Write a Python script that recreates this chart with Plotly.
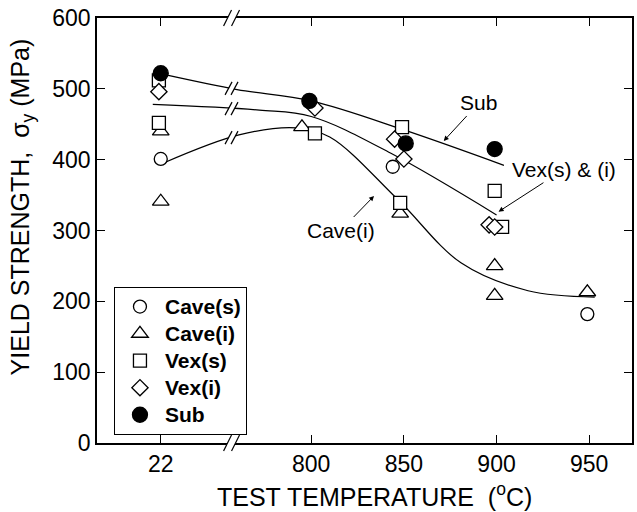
import numpy as np
import plotly.graph_objects as go

# ---------------- data ----------------
# Test temperature in °C; the 22 °C group is drawn left of an axis break.
cave_s_T = [22, 844, 949]
cave_s_Y = [401, 390, 182]

cave_i_T = [22, 22, 795, 848, 899, 899, 949]
cave_i_Y = [440, 341, 446, 324, 250, 208, 213]

vex_s_T = [21, 21, 802, 849, 848, 899, 903]
vex_s_Y = [512, 452, 437, 446, 339, 356, 305]

vex_i_T = [21, 802, 845, 850, 896, 899]
vex_i_Y = [496, 473, 429, 401, 308, 305]

sub_T = [22, 799, 851, 899]
sub_Y = [522, 483, 423, 415]

# hand-drawn guide curves (axis units; first points lie in the 22 °C block)
sub_curve_T = [721, 760, 800, 850, 904]
sub_curve_Y = [520, 499, 483, 442, 392]
vex_curve_T = [714.5, 772, 800, 843, 900]
vex_curve_Y = [478, 470, 461, 409, 322]
cave_curve_T = [720, 761, 792, 810, 847, 881, 917, 953]
cave_curve_Y = [395, 435, 445, 432, 343, 254, 215, 206]

tick_T = [22, 800, 850, 900, 950]
tick_labels = ["22", "800", "850", "900", "950"]
y_ticks = [0, 100, 200, 300, 400, 500, 600]

# ---------------- broken-axis mapping ----------------
X22 = 718.8          # axis position where 22 °C is drawn
BREAK_X = 757.0      # position of the break marks


def pos(t):
    t = np.asarray(t, dtype=float)
    return np.where(t < 500, X22 + (t - 22), t)


XR = [684.4, 973.1]
YR = [0, 600]
W, H = 637, 512
ML, MR, MT, MB = 97, 3, 18, 69
PW, PH = W - ML - MR, H - MT - MB
PX_X = PW / (XR[1] - XR[0])   # px per x unit
PX_Y = PH / (YR[1] - YR[0])   # px per y unit

fig = go.Figure()

LINE = dict(color="black", width=1.2)
for cx, cy in [(sub_curve_T, sub_curve_Y), (vex_curve_T, vex_curve_Y),
               (cave_curve_T, cave_curve_Y)]:
    fig.add_trace(go.Scatter(x=cx, y=cy, mode="lines", line=dict(shape="spline", **LINE),
                             showlegend=False, hoverinfo="skip"))

ML_OPEN = dict(color="black", width=1.3)
series = [
    ("Cave(s)", cave_s_T, cave_s_Y, "circle", 13, "white"),
    ("Cave(i)", cave_i_T, cave_i_Y, "triangle-up", 14.5, "white"),
    ("Vex(s)", vex_s_T, vex_s_Y, "square", 13, "white"),
    ("Vex(i)", vex_i_T, vex_i_Y, "diamond", 12.5, "white"),
    ("Sub", sub_T, sub_Y, "circle", 15, "black"),
]
for i, (name, t, y, sym, sz, fc) in enumerate(series):
    fig.add_trace(go.Scatter(
        x=pos(t), y=y, mode="markers",
        name=f'<span style="font-size:21px">{name}</span>', legendgroup=str(i),
        marker=dict(symbol=sym, size=sz, color=fc, line=ML_OPEN)))

# ---------------- break marks ----------------
shapes = []


def brk_data(xc, yc, w=7, h=13, gap=6):
    """'//' break on a curve, (xc, yc) in data units, sizes in px."""
    dx = lambda p: p / PX_X
    dy = lambda p: p / PX_Y
    x1, x2 = xc - dx(gap / 2), xc + dx(gap / 2)
    path = (f"M{x1 - dx(w/2)},{yc - dy(h/2)} L{x1 + dx(w/2)},{yc + dy(h/2)} "
            f"L{x2 + dx(w/2)},{yc + dy(h/2)} L{x2 - dx(w/2)},{yc - dy(h/2)} Z")
    shapes.append(dict(type="path", path=path, xref="x", yref="y",
                       fillcolor="white", line=dict(width=0), layer="above"))
    for xx in (x1, x2):
        shapes.append(dict(type="line", xref="x", yref="y",
                           x0=xx - dx(w/2), y0=yc - dy(h/2), x1=xx + dx(w/2), y1=yc + dy(h/2),
                           line=dict(color="black", width=1.2), layer="above"))


def brk_axis(xc, yp, w=8, h=16, gap=8):
    dx = lambda p: p / PX_X
    dy = lambda p: p / PH
    x1, x2 = xc - dx(gap / 2), xc + dx(gap / 2)
    path = (f"M{x1 - dx(w/2)},{yp - dy(h/2)} L{x1 + dx(w/2)},{yp + dy(h/2)} "
            f"L{x2 + dx(w/2)},{yp + dy(h/2)} L{x2 - dx(w/2)},{yp - dy(h/2)} Z")
    shapes.append(dict(type="path", path=path, xref="x", yref="paper",
                       fillcolor="white", line=dict(width=0), layer="above"))
    for xx in (x1, x2):
        shapes.append(dict(type="line", xref="x", yref="paper",
                           x0=xx - dx(w/2), y0=yp - dy(h/2), x1=xx + dx(w/2), y1=yp + dy(h/2),
                           line=dict(color="black", width=1.2), layer="above"))


for cx, cy in [(sub_curve_T, sub_curve_Y), (vex_curve_T, vex_curve_Y),
               (cave_curve_T, cave_curve_Y)]:
    brk_data(BREAK_X, float(np.interp(BREAK_X, cx, cy)))
brk_axis(BREAK_X, 0)
brk_axis(BREAK_X, 1)

FONT = "Liberation Sans, Arial, Helvetica, sans-serif"
ann_font = dict(family=FONT, size=21, color="black")
arrow = dict(showarrow=True, arrowhead=2, arrowsize=1, arrowwidth=1, arrowcolor="black")
annotations = [
    dict(text="Sub", x=871.5, y=426.4, ax=35, ay=-38, font=ann_font, **arrow),
    dict(text="Vex(s) & (i)", x=901.1, y=326.6, ax=65, ay=-42, font=ann_font, **arrow),
    dict(text="Cave(i)", x=833.9, y=348.7, ax=-33, ay=34, font=ann_font, **arrow),
    dict(text="YIELD STRENGTH,  σ<sub>y</sub> (MPa)", xref="paper", yref="paper",
         x=-0.1397, y=0.555, xanchor="center", yanchor="middle", textangle=-90,
         showarrow=False, font=dict(family=FONT, size=25, color="black")),
    dict(text="TEST TEMPERATURE  (<sup>o</sup>C)", xref="paper", yref="paper",
         x=0.518, y=-0.122, xanchor="center", yanchor="middle", showarrow=False,
         font=dict(family=FONT, size=25, color="black")),
]

axis_common = dict(showgrid=False, zeroline=False, showline=True, linecolor="black",
                   linewidth=1.5, mirror="ticks", ticks="inside", ticklen=8,
                   tickcolor="black", tickwidth=1.2,
                   tickfont=dict(family=FONT, size=23, color="black"))

fig.update_layout(
    width=W, height=H,
    margin=dict(l=ML, r=MR, t=MT, b=MB),
    paper_bgcolor="white", plot_bgcolor="white",
    xaxis=dict(range=XR, tickvals=pos(tick_T), ticktext=tick_labels, **axis_common),
    yaxis=dict(range=YR, tickvals=y_ticks, **axis_common),
    shapes=shapes,
    annotations=annotations,
    legend=dict(x=0.0317, y=0.367, xanchor="left", yanchor="top",
                bordercolor="black", borderwidth=1, bgcolor="white",
                font=dict(family=FONT, size=18.5, color="black", weight="bold"),
                itemwidth=40, tracegroupgap=0, traceorder="grouped"),
    showlegend=True,
)

fig.write_html("out.html")
